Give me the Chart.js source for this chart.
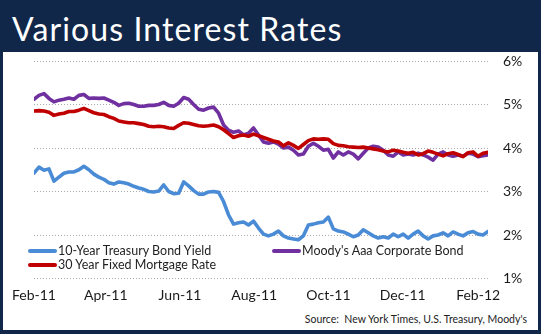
<!DOCTYPE html>
<html>
<head>
<meta charset="utf-8">
<script src="https://cdn.jsdelivr.net/npm/chart.js@4.4.1/dist/chart.umd.min.js"></script>
<style>
  html, body { margin: 0; padding: 0; }
  body { width: 541px; height: 334px; background: #11274a; position: relative; overflow: hidden; font-family: Lato, "Open Sans", sans-serif; }
  #title { position: absolute; left: 12px; top: 9px; color: #fff; font-size: 32px; letter-spacing: 1.1px; line-height: 40px; white-space: nowrap; }
  #panel { position: absolute; left: 3px; top: 52px; width: 535px; height: 278px; background: #fff; }
  #chart { position: absolute; left: 0; top: 0; }
  .leg { position: absolute; font-size: 12.5px; color: #1f1f1f; white-space: nowrap; line-height: 15px; }
  .sw { display: inline-block; width: 29px; height: 4px; border-radius: 2px; vertical-align: middle; margin-right: 1px; position: relative; top: -1px; }
  #source { position: absolute; right: 11px; top: 261px; font-size: 10.5px; color: #222; white-space: nowrap; }
</style>
</head>
<body>
<div id="title">Various Interest Rates</div>
<div id="panel">
  <canvas id="chart" width="535" height="255"></canvas>
  <div class="leg" style="left:25px; top:191px;"><span class="sw" style="background:#4a8bd6"></span>10-Year Treasury Bond Yield</div>
  <div class="leg" style="left:269px; top:191px;"><span class="sw" style="background:#7030a0"></span>Moody's Aaa Corporate Bond</div>
  <div class="leg" style="left:25px; top:205px;"><span class="sw" style="background:#c00000"></span>30 Year Fixed Mortgage Rate</div>
  <div id="source">Source:&nbsp; New York Times, U.S. Treasury, Moody's</div>
</div>
<script>
// Series names
const seriesNames = ['10-Year Treasury Bond Yield', "Moody's Aaa Corporate Bond", '30 Year Fixed Mortgage Rate'];

// X-axis tick labels and their dates (days after 1 Feb 2011)
const tickLabels = ['Feb-11', 'Apr-11', 'Jun-11', 'Aug-11', 'Oct-11', 'Dec-11', 'Feb-12'];
const tickDays = [0, 59, 120, 181, 242, 303, 365];

// Y-axis tick values (%)
const yTickValues = [1, 2, 3, 4, 5, 6];

// Observations, roughly every 4.1 days starting 1 Feb 2011 (values in %)
const treasury = [
  3.42, 3.56, 3.49, 3.52, 3.24, 3.33, 3.42, 3.45, 3.45, 3.50,
  3.58, 3.50, 3.40, 3.33, 3.28, 3.20, 3.17, 3.22, 3.20, 3.17,
  3.12, 3.08, 3.05, 3.00, 2.99, 3.01, 3.15, 3.00, 2.95, 2.96,
  3.22, 3.13, 3.02, 2.94, 2.94, 2.99, 3.00, 2.98, 2.77, 2.46,
  2.25, 2.28, 2.30, 2.23, 2.32, 2.16, 2.02, 1.98, 2.02, 2.09,
  1.98, 1.93, 1.91, 1.89, 1.98, 2.23, 2.25, 2.28, 2.30, 2.41,
  2.14, 2.09, 2.07, 2.02, 1.96, 2.00, 2.12, 2.05, 1.98, 1.93,
  1.96, 1.93, 2.02, 1.96, 2.02, 1.93, 2.02, 2.09, 1.98, 1.91,
  1.98, 2.00, 2.05, 1.98, 2.07, 2.02, 1.98, 2.05, 2.08, 2.02,
  2.00, 2.08
];
const moodys = [
  5.12, 5.21, 5.25, 5.14, 5.06, 5.10, 5.12, 5.15, 5.12, 5.21,
  5.23, 5.14, 5.15, 5.14, 5.15, 5.10, 5.05, 4.98, 5.02, 5.03,
  5.00, 4.96, 4.96, 4.98, 4.98, 5.00, 5.05, 4.98, 4.96, 5.03,
  5.16, 5.12, 5.00, 4.89, 4.87, 4.92, 4.94, 4.80, 4.53, 4.41,
  4.36, 4.39, 4.30, 4.34, 4.46, 4.30, 4.14, 4.11, 4.14, 4.09,
  4.00, 4.02, 3.95, 3.84, 3.86, 4.04, 4.11, 4.04, 3.95, 3.97,
  3.77, 3.91, 3.84, 3.91, 3.86, 3.75, 3.88, 4.00, 4.04, 4.02,
  3.95, 3.84, 3.81, 3.91, 3.84, 3.86, 3.84, 3.88, 3.84, 3.79,
  3.72, 3.86, 3.91, 3.84, 3.81, 3.84, 3.81, 3.88, 3.86, 3.80,
  3.82, 3.84
];
const mortgage = [
  4.85, 4.86, 4.85, 4.82, 4.75, 4.78, 4.80, 4.84, 4.84, 4.87,
  4.91, 4.86, 4.81, 4.78, 4.77, 4.72, 4.68, 4.62, 4.60, 4.58,
  4.58, 4.56, 4.54, 4.50, 4.49, 4.50, 4.49, 4.46, 4.45, 4.52,
  4.58, 4.57, 4.54, 4.51, 4.50, 4.51, 4.53, 4.49, 4.42, 4.33,
  4.24, 4.28, 4.30, 4.27, 4.32, 4.28, 4.24, 4.20, 4.16, 4.14,
  4.05, 4.12, 4.06, 3.99, 4.08, 4.17, 4.21, 4.20, 4.21, 4.20,
  4.10, 4.06, 4.05, 4.03, 4.02, 4.01, 4.02, 4.00, 3.98, 3.96,
  3.93, 3.91, 3.95, 3.93, 3.90, 3.88, 3.90, 3.84, 3.87, 3.93,
  3.90, 3.86, 3.82, 3.87, 3.89, 3.85, 3.80, 3.89, 3.91, 3.81,
  3.88, 3.90
];

const DAY_STEP = 4.1;
const toPoints = arr => arr.map((v, i) => ({ x: i * DAY_STEP, y: v }));
const lastDay = (treasury.length - 1) * DAY_STEP;

const PANEL_W = 535;
const CHART_RIGHT = 485;
const CHART_BOTTOM = 226.5;
const CANVAS_H = 255;

new Chart(document.getElementById('chart'), {
  type: 'line',
  data: {
    datasets: [
      { label: seriesNames[0], data: toPoints(treasury), borderColor: '#4a8bd6', order: 3 },
      { label: seriesNames[1], data: toPoints(moodys), borderColor: '#7030a0', order: 2 },
      { label: seriesNames[2], data: toPoints(mortgage), borderColor: '#c00000', order: 1 }
    ]
  },
  options: {
    responsive: false,
    animation: false,
    devicePixelRatio: 1,
    layout: { padding: { left: 28, top: 9, right: 0, bottom: 0 } },
    elements: {
      point: { radius: 0 },
      line: { borderWidth: 3.6, tension: 0, borderCapStyle: 'round', borderJoinStyle: 'round' }
    },
    plugins: { legend: { display: false }, tooltip: { enabled: false } },
    scales: {
      x: {
        type: 'linear',
        min: 0,
        max: lastDay,
        grid: { display: false, drawTicks: false },
        border: { display: false },
        afterBuildTicks: s => { s.ticks = tickDays.map(v => ({ value: v })); },
        afterFit: s => { s.height = CANVAS_H - CHART_BOTTOM; s.paddingRight = 0; },
        ticks: {
          autoSkip: false,
          maxRotation: 0,
          padding: 9,
          color: '#1a1a1a',
          font: { family: 'Lato', size: 14 },
          callback: v => tickLabels[tickDays.indexOf(v)]
        }
      },
      y: {
        position: 'right',
        min: 1,
        max: 6,
        afterBuildTicks: s => { s.ticks = yTickValues.map(v => ({ value: v })); },
        afterFit: s => { s.width = PANEL_W - CHART_RIGHT; s.paddingTop = 0; s.paddingBottom = 0; },
        grid: { color: '#a9a9a9', lineWidth: 1, drawTicks: false },
        border: { display: false, dash: [1, 2] },
        ticks: {
          padding: 15,
          color: '#1a1a1a',
          font: { family: 'Lato', size: 14 },
          callback: v => v + '%'
        }
      }
    }
  }
});
</script>
</body>
</html>
